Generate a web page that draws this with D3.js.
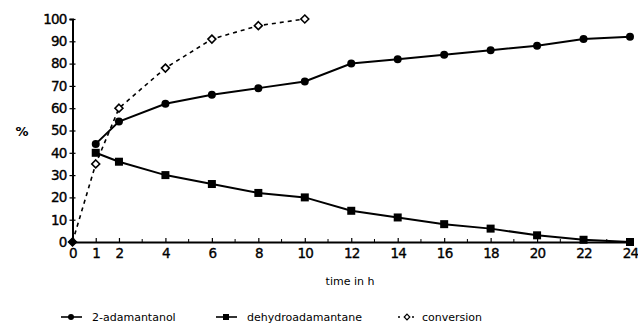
<!DOCTYPE html>
<html>
<head>
<script src="https://d3js.org/d3.v7.min.js"></script>
<style>
  body { margin: 0; background: #fff; }
  svg text { font-family: "DejaVu Sans", sans-serif; fill: #000; }
</style>
</head>
<body>
<svg id="chart" width="638" height="332"></svg>
<script>
// data
var xTickLabels = [0, 1, 2, 4, 6, 8, 10, 12, 14, 16, 18, 20, 22, 24];
var yTickLabels = [0, 10, 20, 30, 40, 50, 60, 70, 80, 90, 100];

var adamTime = [1, 2, 4, 6, 8, 10, 12, 14, 16, 18, 20, 22, 24];
var adamValues = [44, 54, 62, 66, 69, 72, 80, 82, 84, 86, 88, 91, 92];

var dehydTime = [1, 2, 4, 6, 8, 10, 12, 14, 16, 18, 20, 22, 24];
var dehydValues = [40, 36, 30, 26, 22, 20, 14, 11, 8, 6, 3, 1, 0];

var convTime = [0, 1, 2, 4, 6, 8, 10];
var convValues = [0, 35, 60, 78, 91, 97, 100];

var svg = d3.select("#chart");

var x = d3.scaleLinear().domain([0, 24]).range([72.5, 630]);
var y = d3.scaleLinear().domain([0, 100]).range([242, 19]);

var zip = (t, v) => t.map((d, i) => ({t: d, v: v[i]}));
var adam = zip(adamTime, adamValues),
    dehyd = zip(dehydTime, dehydValues),
    conv = zip(convTime, convValues);

var line = d3.line().x(d => x(d.t)).y(d => y(d.v));

// axes
var xAxis = svg.append("g")
    .attr("transform", "translate(0," + y(0) + ")")
    .call(d3.axisBottom(x).tickValues(xTickLabels).tickSize(-4).tickPadding(6).tickFormat(d3.format("d")));
xAxis.append("g").selectAll("line")
    .data(d3.range(3, 24, 2))
    .join("line")
    .attr("x1", d => x(d)).attr("x2", d => x(d))
    .attr("y1", 0).attr("y2", -3)
    .attr("stroke", "#000").attr("stroke-width", 1);

var yAxis = svg.append("g")
    .attr("transform", "translate(" + x(0) + ",0)")
    .call(d3.axisLeft(y).tickValues(yTickLabels).tickSize(3).tickPadding(2));
yAxis.selectAll(".tick line").attr("x2", 3).attr("x1", -3);

svg.selectAll(".domain").attr("stroke", "#000").attr("stroke-width", 2);
svg.selectAll(".tick line").attr("stroke", "#000").attr("stroke-width", 1.2);
svg.selectAll(".tick text")
    .style("font-family", "DejaVu Sans")
    .style("font-size", "13.5px")
    .style("letter-spacing", "-0.8px")
    .attr("fill", "#000")
    .attr("stroke", "#000").attr("stroke-width", 0.35);
yAxis.selectAll(".tick text").attr("x", -6);

svg.append("text")
    .attr("x", 22).attr("y", 136)
    .attr("text-anchor", "middle")
    .style("font-size", "13px").style("font-weight", "bold")
    .text("%");

svg.append("text")
    .attr("x", 350).attr("y", 285)
    .attr("text-anchor", "middle")
    .style("font-size", "11px")
    .text("time in h");

// series lines
svg.append("path").attr("d", line(conv))
    .attr("fill", "none").attr("stroke", "#000")
    .attr("stroke-width", 1.6).attr("stroke-dasharray", "4,4");

svg.append("path").attr("d", line(adam))
    .attr("fill", "none").attr("stroke", "#000").attr("stroke-width", 2);

svg.append("path").attr("d", line(dehyd))
    .attr("fill", "none").attr("stroke", "#000").attr("stroke-width", 2);

// markers
svg.append("g").selectAll("circle")
    .data(adam)
    .join("circle")
    .attr("cx", d => x(d.t)).attr("cy", d => y(d.v))
    .attr("r", 4).attr("fill", "#000");

svg.append("g").selectAll("rect")
    .data(dehyd)
    .join("rect")
    .attr("x", d => x(d.t) - 4).attr("y", d => y(d.v) - 4)
    .attr("width", 8).attr("height", 8).attr("fill", "#000");

var diamond = d3.symbol().type(d3.symbolDiamond2).size(40);
svg.append("g").selectAll("path")
    .data(conv)
    .join("path")
    .attr("d", diamond)
    .attr("transform", d => "translate(" + x(d.t) + "," + y(d.v) + ")")
    .attr("fill", (d, i) => i === 0 ? "#000" : "#fff")
    .attr("stroke", "#000").attr("stroke-width", 1.6);

// legend
var legend = svg.append("g").attr("transform", "translate(0,317)");
var items = [
    {name: "2-adamantanol", x: 61, kind: "circle"},
    {name: "dehydroadamantane", x: 216, kind: "square"},
    {name: "conversion", x: 398, kind: "diamond"}
];
items.forEach(function(it) {
    var g = legend.append("g").attr("transform", "translate(" + it.x + ",0)");
    if (it.kind === "diamond") {
        g.append("line").attr("x1", 0).attr("x2", 18).attr("y1", 0).attr("y2", 0)
            .attr("stroke", "#000").attr("stroke-width", 1.6).attr("stroke-dasharray", "2,5");
        g.append("path").attr("d", d3.symbol().type(d3.symbolDiamond2).size(20))
            .attr("transform", "translate(9,0)")
            .attr("fill", "#fff").attr("stroke", "#000").attr("stroke-width", 1.2);
    } else {
        g.append("line").attr("x1", 0).attr("x2", 21).attr("y1", 0).attr("y2", 0)
            .attr("stroke", "#000").attr("stroke-width", 1.6);
        if (it.kind === "circle") {
            g.append("circle").attr("cx", 10).attr("cy", 0).attr("r", 3).attr("fill", "#000");
        } else {
            g.append("rect").attr("x", 7).attr("y", -3).attr("width", 6).attr("height", 6).attr("fill", "#000");
        }
    }
    g.append("text")
        .attr("x", it.kind === "diamond" ? 24 : 31).attr("y", 4)
        .style("font-size", "11px")
        .text(it.name);
});
</script>
</body>
</html>
